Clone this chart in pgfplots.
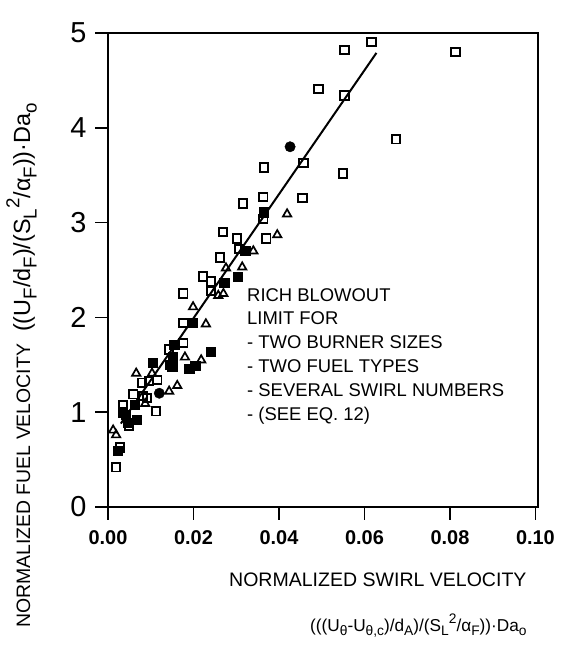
\documentclass[border=0pt]{standalone}
\usepackage{fontspec}
\setmainfont{Liberation Sans}
\usepackage{graphicx}
\usepackage{pgfplots}
\pgfplotsset{compat=1.18}

% lowered / raised indices at four fifths of the current size
\newcommand\lo[1]{\raisebox{-0.28em}{\scalebox{0.8}{#1}}}
\newcommand\hi[1]{\raisebox{0.45em}{\scalebox{0.8}{#1}}}

% open squares
\pgfplotstableread{
x y
0.0553 4.82
0.0616 4.905
0.0813 4.80
0.0492 4.41
0.0553 4.34
0.0674 3.88
0.0457 3.63
0.0365 3.58
0.0550 3.52
0.0363 3.27
0.0455 3.26
0.0316 3.20
0.0363 3.04
0.0370 2.83
0.0269 2.90
0.0302 2.83
0.0307 2.72
0.0262 2.63
0.0222 2.43
0.0241 2.38
0.0176 2.25
0.0241 2.28
0.0176 1.94
0.0176 1.73
0.0143 1.66
0.0080 1.31
0.0096 1.33
0.0115 1.34
0.0059 1.19
0.0082 1.17
0.0091 1.15
0.0112 1.01
0.0035 1.07
0.0049 0.86
0.0028 0.63
0.0019 0.42
}\opensq

% open triangles
\pgfplotstableread{
x y
0.0419 3.09
0.0396 2.87
0.0340 2.70
0.0276 2.52
0.0314 2.53
0.0258 2.23
0.0270 2.25
0.0199 2.11
0.0229 1.93
0.0180 1.58
0.0218 1.55
0.0066 1.41
0.0103 1.41
0.0162 1.28
0.0143 1.22
0.0087 1.09
0.0012 0.81
0.0019 0.76
}\opentri

% filled squares
\pgfplotstableread{
x y
0.0365 3.11
0.0321 2.70
0.0304 2.43
0.0272 2.37
0.0199 1.94
0.0155 1.71
0.0241 1.64
0.0152 1.58
0.0190 1.46
0.0204 1.49
0.0150 1.48
0.0105 1.52
0.0145 1.50
0.0063 1.08
0.0035 1.00
0.0042 0.97
0.0068 0.92
0.0047 0.89
0.0023 0.59
}\fillsq

% filled circles
\pgfplotstableread{
x y
0.0426 3.80
0.0120 1.20
}\fillci

\begin{document}
\begin{tikzpicture}
\useasboundingbox (0bp,0bp) rectangle (561bp,645bp);
\begin{axis}[
  at={(108bp,138bp)}, anchor=south west,
  scale only axis, width=430bp, height=474bp,
  xmin=0, xmax=0.1006, ymin=0, ymax=5,
  xtick={0,0.02,0.04,0.06,0.08,0.10},
  ytick={0,1,2,3,4,5},
  xtick pos=bottom, ytick pos=left,
  tick align=outside,
  major tick length=13bp,
  axis line style={line width=1.8bp},
  tick style={line width=1.5bp, black},
  scaled x ticks=false,
  xticklabel style={font=\fontsize{20}{24}\selectfont\bfseries, yshift=-7bp,
    /pgf/number format/.cd, fixed, fixed zerofill, precision=2},
  yticklabel style={font=\fontsize{29}{34}\selectfont, xshift=-5bp},
  /pgf/number format/assume math mode=true,
  clip=false,
]
\addplot[black, line width=2bp] coordinates {(0.003,0.88) (0.0628,4.79)};
\addplot[only marks, mark=square, mark size=4.3bp,
  mark options={line width=1.9bp, black}] table {\opensq};
\addplot[only marks, mark=triangle, mark size=4.8bp,
  mark options={line width=1.7bp, black}] table {\opentri};
\addplot[only marks, mark=square*, mark size=4.6bp,
  mark options={black, fill=black}] table {\fillsq};
\addplot[only marks, mark=*, mark size=5.2bp,
  mark options={black, fill=black}] table {\fillci};
\end{axis}

% note inside the plot
\node[anchor=north west, align=left, inner sep=0pt,
  font=\fontsize{18.5}{24}\selectfont] at (247bp,357bp)
  {RICH BLOWOUT\\LIMIT FOR\\- TWO BURNER SIZES\\- TWO FUEL TYPES\\- SEVERAL SWIRL NUMBERS\\- (SEE EQ. 12)};

% x axis title
\node[anchor=base west, inner sep=0pt, font=\fontsize{19.6}{23}\selectfont]
  at (229bp,58bp) {NORMALIZED SWIRL VELOCITY};
\node[anchor=base west, inner sep=0pt, font=\fontsize{17.3}{20}\selectfont]
  at (310bp,14bp)
  {(((U\lo{θ}-U\lo{θ,c})/d\lo{A})/(S\lo{L}\hi{2}/α\lo{F}))·Da\lo{o}};

% y axis title
\node[anchor=base west, rotate=90, inner sep=0pt, font=\fontsize{19.5}{23}\selectfont]
  at (30bp,17bp) {NORMALIZED FUEL VELOCITY};
\node[anchor=base west, rotate=90, inner sep=0pt, font=\fontsize{23.5}{27}\selectfont]
  at (30bp,313bp)
  {((U\lo{F}/d\lo{F})/(S\lo{L}\hi{2}/α\lo{F}))·Da\lo{o}};
\end{tikzpicture}
\end{document}
